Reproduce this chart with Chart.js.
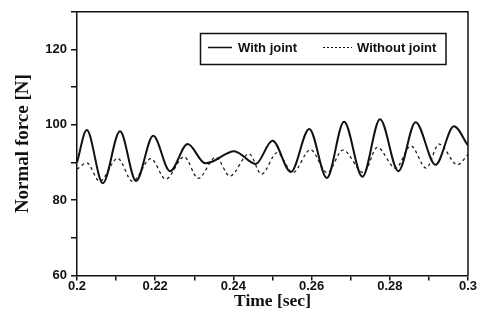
<!DOCTYPE html>
<html>
<head>
<meta charset="utf-8">
<script src="https://cdn.jsdelivr.net/npm/chart.js@4"></script>
<style>
html,body{margin:0;padding:0;background:#fff;}
#wrap{width:485px;height:327px;}
</style>
</head>
<body>
<div id="wrap"><canvas id="c" width="485" height="327"></canvas></div>
<script>
// ---- data ----
const seriesNames = ['With joint', 'Without joint'];

const timeWith = [0.2000, 0.2025, 0.2066, 0.2110, 0.2151, 0.2195, 0.2238, 0.2283, 0.2328, 0.2345, 0.2402, 0.2457, 0.2500, 0.2547, 0.2594, 0.2639, 0.2683, 0.2730, 0.2775, 0.2822, 0.2866, 0.2917, 0.2964, 0.3000];
const forceWith = [90.0, 98.6, 84.5, 98.3, 85.1, 97.1, 87.7, 94.9, 89.8, 90.2, 93.0, 89.6, 95.8, 87.5, 98.9, 85.9, 100.8, 86.2, 101.5, 87.7, 100.7, 89.4, 99.6, 94.5];

const timeWithout = [0.2000, 0.2025, 0.2058, 0.2104, 0.2142, 0.2189, 0.2227, 0.2274, 0.2310, 0.2355, 0.2391, 0.2440, 0.2472, 0.2512, 0.2552, 0.2597, 0.2640, 0.2680, 0.2733, 0.2768, 0.2815, 0.2854, 0.2893, 0.2926, 0.2973, 0.3000];
const forceWithout = [88.2, 89.9, 85.0, 91.1, 85.0, 91.0, 85.6, 91.5, 85.8, 91.4, 86.4, 92.3, 86.9, 92.6, 87.3, 93.4, 87.3, 93.3, 87.3, 94.0, 88.5, 94.4, 88.5, 94.9, 89.4, 92.1];

const xTickLabels = {'0.2':'0.2','0.22':'0.22','0.24':'0.24','0.26':'0.26','0.28':'0.28','0.3':'0.3'};
const yTickLabels = {'60':'60','80':'80','100':'100','120':'120'};

// ---- build ----
function pts(xs, ys){ return xs.map((x,i)=>({x:x, y:ys[i]})); }

const frameAndLegend = {
  id: 'frameAndLegend',
  afterDraw(chart){
    const {ctx, chartArea:a} = chart;
    ctx.save();
    ctx.strokeStyle = '#111';
    ctx.lineWidth = 1.5;
    ctx.beginPath();
    ctx.moveTo(a.left, a.top); ctx.lineTo(a.right, a.top); ctx.lineTo(a.right, a.bottom);
    ctx.stroke();
    // legend box
    ctx.lineWidth = 1.5;
    ctx.strokeRect(200.5, 33.5, 245.5, 31);
    const ds = chart.data.datasets;
    ctx.font = 'bold 13px "Liberation Sans", Arial, sans-serif';
    ctx.fillStyle = '#111';
    ctx.textBaseline = 'middle';
    // item 1
    ctx.lineWidth = 1.5; ctx.setLineDash([]);
    ctx.beginPath(); ctx.moveTo(208, 47.5); ctx.lineTo(232, 47.5); ctx.stroke();
    ctx.fillText(ds[0].label, 238, 48);
    // item 2
    ctx.lineWidth = 1; ctx.setLineDash([2,2]);
    ctx.beginPath(); ctx.moveTo(323, 47.5); ctx.lineTo(352, 47.5); ctx.stroke();
    ctx.setLineDash([]);
    ctx.fillText(ds[1].label, 357, 48);
    ctx.restore();
  }
};

new Chart(document.getElementById('c'), {
  type: 'line',
  data: {
    datasets: [
      {label: seriesNames[0], data: pts(timeWith, forceWith), borderColor:'#111', borderWidth:2, pointRadius:0, cubicInterpolationMode:'monotone', fill:false},
      {label: seriesNames[1], data: pts(timeWithout, forceWithout), borderColor:'#222', borderWidth:1.3, borderDash:[3,3], pointRadius:0, cubicInterpolationMode:'monotone', fill:false}
    ]
  },
  options: {
    responsive:false,
    animation:false,
    layout:{padding:{left:0, top:9, right:17, bottom:0}},
    plugins:{legend:{display:false}, tooltip:{enabled:false}},
    scales:{
      x:{
        type:'linear', min:0.2, max:0.3,
        afterFit: s => { s.height = 51.5; },
        grid:{display:true, drawOnChartArea:false, drawTicks:true, tickLength:5, color:'#111', lineWidth:1.5},
        border:{display:true, color:'#111', width:1.5},
        ticks:{
          stepSize:0.01, autoSkip:false, maxRotation:0, padding:-2, color:'#111',
          font:{family:'"Liberation Sans", Arial, sans-serif', size:13, weight:'bold'},
          callback: v => { const k = String(Math.round(v*100)/100); return xTickLabels[k] !== undefined ? xTickLabels[k] : ''; }
        },
        title:{display:true, text:'Time [sec]', color:'#111', padding:{top:0,bottom:15},
          font:{family:'"Liberation Serif", "Times New Roman", serif', size:17.5, weight:'bold'}}
      },
      y:{
        type:'linear', min:60, max:130,
        afterFit: s => { s.width = 77; },
        grid:{display:true, drawOnChartArea:false, drawTicks:true, tickLength:6, color:'#111', lineWidth:1.5},
        border:{display:true, color:'#111', width:1.5},
        ticks:{
          stepSize:10, autoSkip:false, padding:4, color:'#111',
          font:{family:'"Liberation Sans", Arial, sans-serif', size:13, weight:'bold'},
          callback: v => { const k = String(Math.round(v)); return yTickLabels[k] !== undefined ? yTickLabels[k] : ''; }
        },
        title:{display:true, text:'Normal force [N]', color:'#111', padding:{top:12,bottom:0},
          font:{family:'"Liberation Serif", "Times New Roman", serif', size:19, weight:'bold'}}
      }
    }
  },
  plugins:[frameAndLegend]
});
</script>
</body>
</html>
